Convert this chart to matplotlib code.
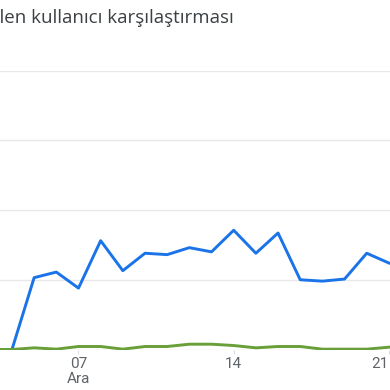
import matplotlib.pyplot as plt

days = list(range(3, 22))
# yeni kullanıcılar (mavi) ve geri gelen kullanıcılar (yeşil)
new_users = [0, 0, 10.3, 11.1, 8.8, 15.6, 11.3, 13.8, 13.6, 14.6, 14.0, 17.1,
             13.8, 16.7, 10.0, 9.8, 10.1, 13.8, 12.4]
returning_users = [0, 0, 0.24, 0.05, 0.43, 0.43, 0.05, 0.43, 0.43, 0.76, 0.76,
                   0.57, 0.24, 0.43, 0.43, 0.05, 0.05, 0.05, 0.33]
tick_days = [7, 14, 21]
tick_labels = ["07\nAra", "14", "21"]
title = "Yeni ve geri gelen kullanıcı karşılaştırması"

W = 390
fig = plt.figure(figsize=(3.9, 3.9), dpi=100)
ax = fig.add_axes([0, (390 - 349.5) / W, 1, (349.5 - 70.5) / W])

ax.plot(days, new_users, color="#1a73e8", lw=2.1, zorder=3)
ax.plot(days, returning_users, color="#689f38", lw=2.1, zorder=4)

ax.set_xlim(3.46, 21.05)
ax.set_ylim(0, 40)
ax.set_yticks([0, 10, 20, 30, 40])
ax.yaxis.grid(True, color="#e8e8e8", lw=1)
ax.tick_params(axis="y", left=False, labelleft=False)
for s in ax.spines.values():
    s.set_visible(False)

ax.set_xticks(tick_days)
ax.set_xticklabels(tick_labels, fontsize=11, color="#5f6368", family="Roboto",
                   linespacing=1.05)
ax.tick_params(axis="x", length=3, color="#dadce0", pad=2.5)
labs = ax.get_xticklabels()
labs[-1].set_ha("right")

fig.text(234 / W, 1 - 23 / W, title, ha="right", va="baseline",
         fontsize=13.5, color="#3c4043", family="Open Sans", fontweight="medium")

fig.savefig("out.png")
